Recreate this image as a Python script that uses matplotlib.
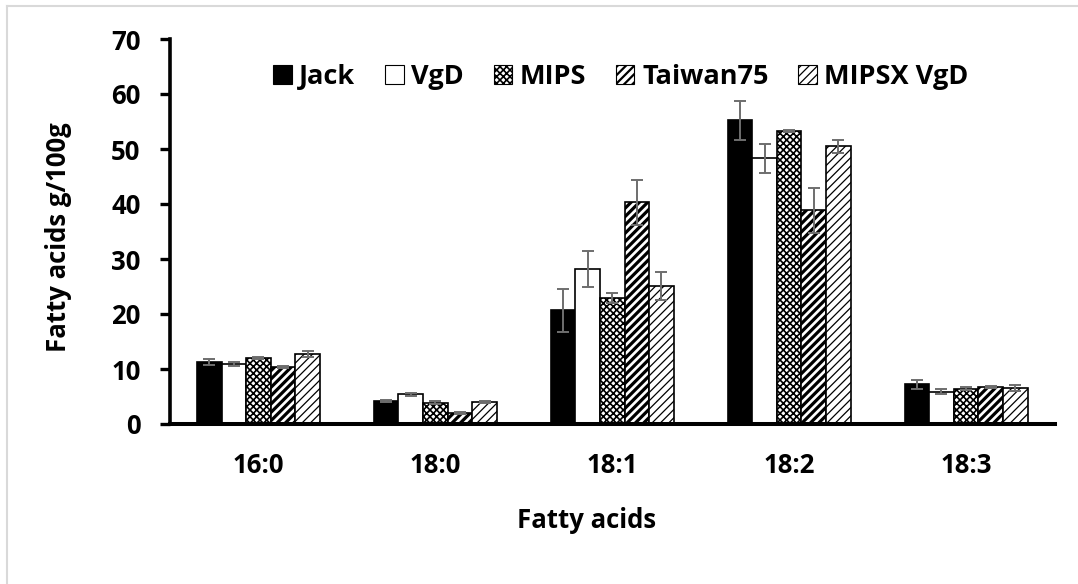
import matplotlib
matplotlib.use("Agg")
import matplotlib.pyplot as plt
import numpy as np
from matplotlib.patches import Patch
from matplotlib.lines import Line2D

categories = ["16:0", "18:0", "18:1", "18:2", "18:3"]
series = ["Jack", "VgD", "MIPS", "Taiwan75", "MIPSX VgD"]
jack = [11.3, 4.2, 20.7, 55.2, 7.2]
vgd = [10.9, 5.4, 28.2, 48.3, 5.9]
mips = [12.0, 3.9, 22.9, 53.3, 6.4]
taiwan75 = [10.3, 2.0, 40.3, 38.9, 6.7]
mipsx_vgd = [12.7, 4.0, 25.1, 50.5, 6.6]
jack_err = [0.55, 0.2, 3.9, 3.6, 0.85]
vgd_err = [0.3, 0.25, 3.2, 2.7, 0.4]
mips_err = [0.2, 0.2, 0.85, 0.2, 0.3]
taiwan75_err = [0.2, 0.15, 4.15, 4.1, 0.15]
mipsx_vgd_err = [0.5, 0.15, 2.6, 1.2, 0.55]
y_ticks = [0, 10, 20, 30, 40, 50, 60, 70]

values = [jack, vgd, mips, taiwan75, mipsx_vgd]
errors = [jack_err, vgd_err, mips_err, taiwan75_err, mipsx_vgd_err]
styles = [
    dict(facecolor="black", hatch=None, hlw=1.0),
    dict(facecolor="white", hatch=None, hlw=1.0),
    dict(facecolor="white", hatch="xxxxx", hlw=1.2),
    dict(facecolor="white", hatch="////", hlw=2.3),
    dict(facecolor="white", hatch="////", hlw=0.9),
]

FONT = "Open Sans"
plt.rcParams["font.family"] = [FONT, "DejaVu Sans"]
plt.rcParams["font.weight"] = "bold"

W, H = 1078, 584
fig = plt.figure(figsize=(W / 100, H / 100), dpi=100)
ax = fig.add_axes([170 / W, 1 - 424 / H, (1054.5 - 170) / W, (424 - 39) / H])

x = np.arange(len(categories))
bw = 0.139
for i, (vals, errs, st) in enumerate(zip(values, errors, styles)):
    pos = x + (i - 2) * bw
    with plt.rc_context({"hatch.linewidth": st["hlw"], "hatch.color": "black"}):
        bars = ax.bar(pos, vals, width=bw, facecolor=st["facecolor"], edgecolor="black",
                      linewidth=1.2, hatch=st["hatch"], label=series[i], zorder=2)
    for b in bars:
        try:
            b.set_hatch_linewidth(st["hlw"])
        except Exception:
            pass
    ax.errorbar(pos, vals, yerr=errs, fmt="none", ecolor="#6e6e6e", elinewidth=1.4,
                capsize=4.5, capthick=1.4, zorder=3)

ax.set_xlim(-0.5, len(categories) - 0.5)
ax.set_ylim(0, 70)
ax.set_yticks(y_ticks)
ax.set_xticks(x)
ax.set_xticklabels(categories)
for s in ["top", "right"]:
    ax.spines[s].set_visible(False)
ax.spines["left"].set_linewidth(2.6)
ax.spines["bottom"].set_linewidth(2.9)
ax.tick_params(axis="y", direction="out", length=7.2, width=2.4, labelsize=18.5, pad=14)
ax.tick_params(axis="x", length=0, labelsize=18.5, pad=20)
for lab in ax.get_xticklabels() + ax.get_yticklabels():
    lab.set_fontweight("bold")

fig.text(587 / W, 1 - 520 / H, "Fatty acids", ha="center", va="center",
         fontsize=18.5, fontweight="bold")
fig.text(58 / W, 1 - 237 / H, "Fatty acids g/100g", ha="center", va="center",
         rotation=90, fontsize=18.5, fontweight="bold")

handles = []
for i, st in enumerate(styles):
    p = Patch(facecolor=st["facecolor"], edgecolor="black", linewidth=0.8,
              hatch=st["hatch"], label=series[i])
    handles.append(p)
leg = fig.legend(handles=handles, loc="center", bbox_to_anchor=(621 / W, 1 - 77 / H),
                 ncol=5, frameon=False, fontsize=19.5, handlelength=0.68, handleheight=0.68,
                 handletextpad=0.28, columnspacing=1.1, borderaxespad=0)
for t in leg.get_texts():
    t.set_fontweight("bold")
for p, st in zip(leg.get_patches(), styles):
    try:
        p.set_hatch_linewidth(min(st["hlw"], 1.6))
    except Exception:
        pass

# chart area border (top and left visible)
fig.add_artist(Line2D([6.5 / W, 1.0], [1 - 5.5 / H, 1 - 5.5 / H], transform=fig.transFigure,
                      color="#d9d9d9", linewidth=1.5))
fig.add_artist(Line2D([6.5 / W, 6.5 / W], [0, 1 - 5.5 / H], transform=fig.transFigure,
                      color="#d9d9d9", linewidth=1.5))

fig.savefig("out.png", dpi=100)
